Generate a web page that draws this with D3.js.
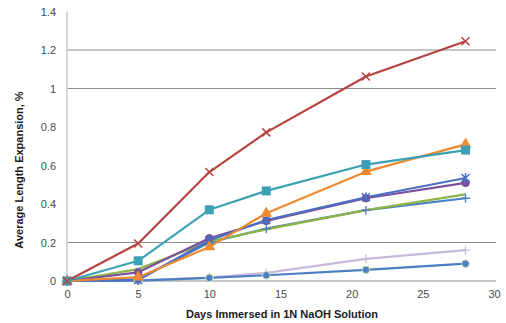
<!DOCTYPE html>
<html>
<head>
<meta charset="utf-8">
<script src="https://cdn.jsdelivr.net/npm/d3@7"></script>
<style>
  html, body { margin: 0; padding: 0; background: #ffffff; }
  svg { display: block; font-family: "Liberation Sans", Arial, sans-serif; }
</style>
</head>
<body>
<svg id="chart" width="506" height="323"></svg>
<script>
// Immersion ages (days) at which length was measured
const days = [0, 5, 10, 14, 21, 28];

// Average length expansion (%) per mix
const mixRed        = [0, 0.195, 0.566, 0.772, 1.062, 1.245];
const mixTeal       = [0, 0.105, 0.370, 0.468, 0.605, 0.680];
const mixOrange     = [0, 0.020, 0.177, 0.352, 0.568, 0.710];
const mixBlueStar   = [0, 0.005, 0.210, 0.317, 0.435, 0.535];
const mixPurple     = [0, 0.045, 0.222, 0.312, 0.430, 0.510];
const mixGreen      = [0, 0.062, 0.205, 0.268, 0.368, 0.450];
const mixBluePlus   = [0, 0.010, 0.200, 0.272, 0.368, 0.430];
const mixLilac      = [0, 0.003, 0.018, 0.042, 0.115, 0.160];
const mixBlueCircle = [0, 0.002, 0.016, 0.030, 0.058, 0.090];

const xTicks = [0, 5, 10, 15, 20, 25, 30];
const yTicks = [0, 0.2, 0.4, 0.6, 0.8, 1, 1.2, 1.4];
const yGrid = [0.2, 1, 1.2];

const series = [
  { values: mixLilac,      color: "#c7b9d9", marker: "plus",     stroke: "#c7b9d9" },
  { values: mixBlueCircle, color: "#4a7fc1", marker: "circle",   stroke: "#cfe3b0" },
  { values: mixBluePlus,   color: "#4a7fc1", marker: "plus",     stroke: "#4a7fc1" },
  { values: mixGreen,      color: "#8db447", marker: "none" },
  { values: mixPurple,     color: "#7a519a", marker: "circle",   stroke: "#7a519a" },
  { values: mixBlueStar,   color: "#4a70c4", marker: "star",     stroke: "#4a70c4" },
  { values: mixOrange,     color: "#ee8a32", marker: "triangle", stroke: "#ee8a32" },
  { values: mixTeal,       color: "#3ba1b5", marker: "square",   stroke: "#3ba1b5" },
  { values: mixRed,        color: "#b5433f", marker: "cross",    stroke: "#b5433f" }
];

const svg = d3.select("#chart");
const x = d3.scaleLinear().domain([0, 30]).range([67, 494]);
const y = d3.scaleLinear().domain([0, 1.4]).range([281, 11.5]);

// horizontal gridlines
svg.append("g").selectAll("line").data(yGrid).join("line")
  .attr("x1", x(0)).attr("x2", 496)
  .attr("y1", d => y(d)).attr("y2", d => y(d))
  .attr("stroke", "#8c8c8c").attr("stroke-width", 1.2);

// value axis line
svg.append("line")
  .attr("x1", x(0)).attr("x2", x(0)).attr("y1", y(1.4)).attr("y2", y(0))
  .attr("stroke", "#c8c8c8").attr("stroke-width", 1.5);

// category baseline
svg.append("line")
  .attr("x1", x(0)).attr("x2", 496).attr("y1", y(0)).attr("y2", y(0))
  .attr("stroke", "#8c8c8c").attr("stroke-width", 1.2);

// y axis labels
const yAxis = d3.axisLeft(y).tickValues(yTicks).tickSize(0).tickPadding(0)
  .tickFormat(d => d === 0 ? "0" : d3.format("~g")(d));
const gy = svg.append("g").attr("transform", "translate(56,0)").call(yAxis);
gy.select(".domain").remove();
gy.selectAll("text").attr("font-size", 11).attr("fill", "#4a4a4a")
  .attr("font-family", "'Liberation Sans', Arial, sans-serif");

// x axis labels
const xAxis = d3.axisBottom(x).tickValues(xTicks).tickSize(0).tickPadding(0);
const gx = svg.append("g").attr("transform", "translate(0,290)").call(xAxis);
gx.select(".domain").remove();
gx.selectAll("text").attr("font-size", 11).attr("fill", "#4a4a4a")
  .attr("font-family", "'Liberation Sans', Arial, sans-serif");

// axis titles
svg.append("text")
  .attr("x", 282).attr("y", 318).attr("text-anchor", "middle")
  .attr("font-size", 11).attr("font-weight", "bold").attr("fill", "#1a1a1a")
  .text("Days Immersed in 1N NaOH Solution");
svg.append("text")
  .attr("transform", "translate(23,170) rotate(-90)").attr("text-anchor", "middle")
  .attr("font-size", 11).attr("font-weight", "bold").attr("fill", "#1a1a1a")
  .text("Average Length Expansion, %");

const line = d3.line().x((d, i) => x(days[i])).y(d => y(d));

const gLines = svg.append("g");
series.forEach(s => {
  gLines.append("path").datum(s.values)
    .attr("d", line).attr("fill", "none")
    .attr("stroke", s.color).attr("stroke-width", 2.2)
    .attr("stroke-linejoin", "round");
});

function drawMarker(g, s, px, py) {
  const m = s.marker;
  if (m === "circle") {
    g.append("circle").attr("cx", px).attr("cy", py).attr("r", 3.8)
      .attr("fill", s.color).attr("stroke", s.stroke).attr("stroke-width", 1);
  } else if (m === "square") {
    g.append("rect").attr("x", px - 4.5).attr("y", py - 4.5)
      .attr("width", 9).attr("height", 9).attr("fill", s.color);
  } else if (m === "triangle") {
    g.append("path").attr("d", d3.symbol(d3.symbolTriangle, 60)())
      .attr("transform", `translate(${px},${py})`).attr("fill", s.color);
  } else if (m === "plus") {
    g.append("path").attr("d", `M${px - 4.5},${py}H${px + 4.5}M${px},${py - 4.5}V${py + 4.5}`)
      .attr("stroke", s.stroke).attr("stroke-width", 1.3);
  } else if (m === "cross") {
    g.append("path").attr("d", `M${px - 4},${py - 4}L${px + 4},${py + 4}M${px - 4},${py + 4}L${px + 4},${py - 4}`)
      .attr("stroke", s.stroke).attr("stroke-width", 1.5);
  } else if (m === "star") {
    g.append("path").attr("d", `M${px - 4},${py - 4}L${px + 4},${py + 4}M${px - 4},${py + 4}L${px + 4},${py - 4}M${px},${py - 5}V${py + 5}`)
      .attr("stroke", s.stroke).attr("stroke-width", 1.5);
  }
}

const gMarks = svg.append("g");
series.forEach(s => {
  if (s.marker === "none") return;
  s.values.forEach((v, i) => drawMarker(gMarks, s, x(days[i]), y(v)));
});
</script>
</body>
</html>
